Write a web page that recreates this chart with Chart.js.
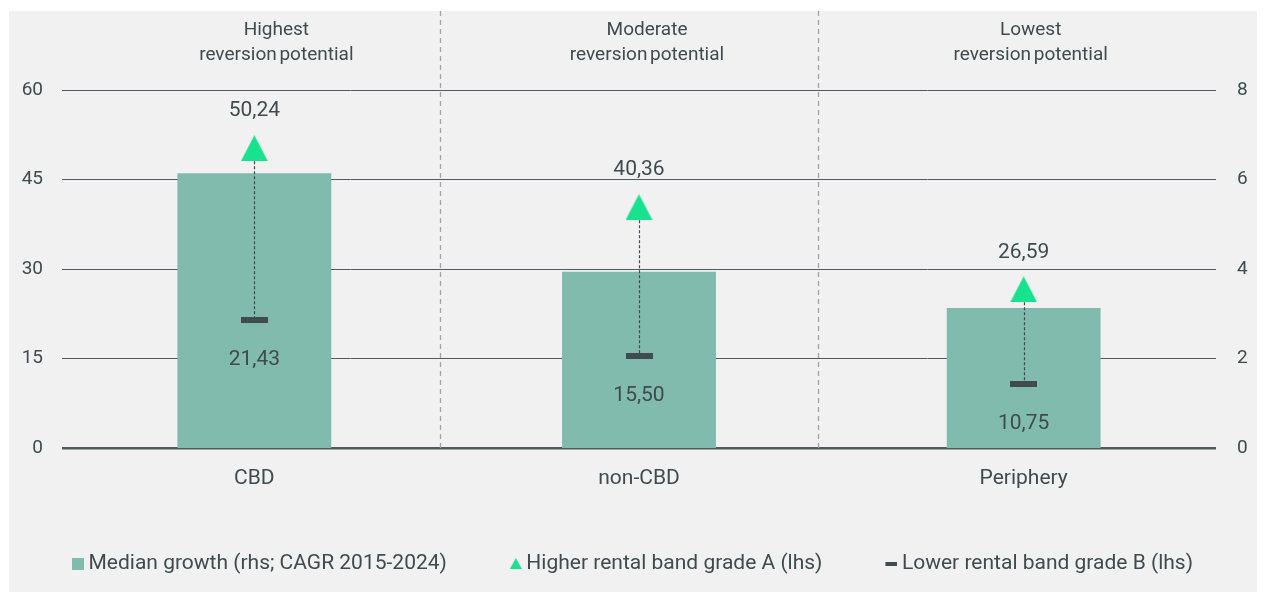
<!DOCTYPE html>
<html>
<head>
<meta charset="utf-8">
<script src="https://cdn.jsdelivr.net/npm/chart.js@4/dist/chart.umd.min.js"></script>
<style>
  html, body { margin: 0; padding: 0; background: #ffffff; }
  #panel { position: absolute; left: 9px; top: 11px; width: 1248px; height: 581px; background: #f1f1f1; }
  #panel canvas { display: block; }
</style>
</head>
<body>
<div id="panel"><canvas id="c"></canvas></div>
<script>
// ---- data ----
const categories = ['CBD', 'non-CBD', 'Periphery'];
const medianGrowth = [6.14, 3.94, 3.13];          // rhs, CAGR %
const higherBandA = [50.24, 40.36, 26.59];        // lhs
const lowerBandB = [21.43, 15.50, 10.75];         // lhs
const leftTicks = [0, 15, 30, 45, 60];
const rightTicks = [0, 2, 4, 6, 8];
const headerLine1 = ['Highest', 'Moderate', 'Lowest'];
const headerLine2 = ['reversion potential', 'reversion potential', 'reversion potential'];
const seriesNames = ['Median growth (rhs; CAGR 2015-2024)', 'Higher rental band grade A (lhs)', 'Lower rental band grade B (lhs)'];

// ---- styles ----
const FONT = 'Roboto, "Noto Sans", sans-serif';
const TEXT = '#3f4b4e';
const GRID = '#4e5b5d';
const BAR = '#80bbae';
const GREEN = '#17e38f';
const DASH = '#3f4b4e';

function makeTriangle(w, h, color, padL) {
  padL = padL || 0;
  const c = document.createElement('canvas');
  c.width = w + padL; c.height = h;
  const x = c.getContext('2d');
  x.fillStyle = color;
  x.beginPath(); x.moveTo(padL + w / 2, 0); x.lineTo(padL + w, h); x.lineTo(padL, h); x.closePath(); x.fill();
  return c;
}
function makeRect(w, h, color, padL) {
  padL = padL || 0;
  const c = document.createElement('canvas');
  c.width = w + padL; c.height = h;
  const x = c.getContext('2d');
  x.fillStyle = color; x.fillRect(padL, 0, w, h);
  return c;
}
const triPoint = makeTriangle(27, 26, GREEN);
const dashPoint = makeRect(27, 6, DASH);
const legendIcons = [makeRect(12, 12, BAR, 6), makeTriangle(12, 11, GREEN, 6), makeRect(12, 4, DASH, 6)];

const fmt = v => v.toFixed(2).replace('.', ',');

const overlay = {
  id: 'overlay',
  beforeDatasetsDraw(chart) {
    const ctx = chart.ctx, xs = chart.scales.x, area = chart.chartArea;
    // dashed separators between regions
    ctx.save();
    ctx.strokeStyle = '#a3a3a3';
    ctx.lineWidth = 1.3;
    ctx.setLineDash([5, 4]);
    [0.483, 1.465].forEach(v => {
      const px = Math.round(xs.getPixelForValue(v)) + 0.5;
      ctx.beginPath(); ctx.moveTo(px, 0); ctx.lineTo(px, area.bottom); ctx.stroke();
    });
    ctx.restore();
    // headers
    ctx.save();
    ctx.fillStyle = TEXT;
    ctx.font = '19px ' + FONT;
    ctx.textAlign = 'center';
    ctx.textBaseline = 'middle';
    try { ctx.wordSpacing = '-2px'; } catch (e) {}
    const offs = [22, 8, 7];
    categories.forEach((c, i) => {
      const px = xs.getPixelForValue(i) + offs[i];
      ctx.fillText(headerLine1[i], px, 19);
      ctx.fillText(headerLine2[i], px, 44);
    });
    ctx.restore();
  },
  afterDatasetDraw(chart, args) {
    if (args.index !== 0) return;
    const ctx = chart.ctx, xs = chart.scales.x, ys = chart.scales.y;
    ctx.save();
    ctx.strokeStyle = DASH;
    ctx.lineWidth = 1.2;
    ctx.setLineDash([3, 2]);
    categories.forEach((c, i) => {
      const px = Math.round(xs.getPixelForValue(i)) + 0.5;
      ctx.beginPath();
      ctx.moveTo(px, ys.getPixelForValue(higherBandA[i]) + 13);
      ctx.lineTo(px, ys.getPixelForValue(lowerBandB[i]));
      ctx.stroke();
    });
    ctx.restore();
  },
  afterDatasetsDraw(chart) {
    const ctx = chart.ctx, xs = chart.scales.x, ys = chart.scales.y;
    ctx.save();
    ctx.fillStyle = TEXT;
    ctx.font = '21px ' + FONT;
    ctx.textAlign = 'center';
    ctx.textBaseline = 'middle';
    categories.forEach((c, i) => {
      const px = xs.getPixelForValue(i);
      ctx.fillText(fmt(higherBandA[i]), px, ys.getPixelForValue(higherBandA[i]) - 37);
      ctx.fillText(fmt(lowerBandB[i]), px, ys.getPixelForValue(lowerBandB[i]) + 40);
    });
    ctx.restore();
  }
};

new Chart(document.getElementById('c'), {
  data: {
    labels: categories,
    datasets: [
      {
        type: 'bar', label: seriesNames[0], data: medianGrowth, yAxisID: 'y1',
        backgroundColor: BAR, barPercentage: 0.4, categoryPercentage: 1.0, order: 3
      },
      {
        type: 'line', label: seriesNames[1], data: higherBandA, yAxisID: 'y',
        showLine: false, pointStyle: triPoint, pointRadius: 13, pointHoverRadius: 13, order: 1
      },
      {
        type: 'line', label: seriesNames[2], data: lowerBandB, yAxisID: 'y',
        showLine: false, pointStyle: dashPoint, pointRadius: 13, pointHoverRadius: 13, order: 2
      }
    ]
  },
  options: {
    responsive: true,
    maintainAspectRatio: false,
    animation: false,
    events: [],
    layout: { padding: { top: 79, left: 0, right: 0, bottom: 8 } },
    plugins: {
      tooltip: { enabled: false },
      legend: {
        position: 'bottom',
        align: 'start',
        labels: {
          usePointStyle: true,
          pointStyleWidth: 6,
          boxHeight: 12,
          padding: 63,
          color: TEXT,
          font: { family: FONT, size: 21 },
          generateLabels: () => seriesNames.map((n, i) => ({
            text: n, pointStyle: legendIcons[i], fillStyle: BAR, strokeStyle: 'transparent',
            lineWidth: 0, hidden: false, datasetIndex: i, fontColor: TEXT
          }))
        }
      }
    },
    scales: {
      x: {
        grid: { display: false, drawTicks: false },
        border: { display: false },
        ticks: { color: TEXT, font: { family: FONT, size: 21 }, padding: 18 },
        afterFit: s => { s.height = 42; }
      },
      y: {
        position: 'left', min: 0, max: 60,
        afterBuildTicks: s => { s.ticks = leftTicks.map(v => ({ value: v })); },
        grid: {
          color: GRID, drawTicks: false,
          lineWidth: c => (c.tick && c.tick.value === 0 ? 2.6 : 1)
        },
        border: { display: false },
        ticks: { color: TEXT, font: { family: FONT, size: 19 }, padding: 19 },
        afterFit: s => { s.width = 53; }
      },
      y1: {
        position: 'right', min: 0, max: 8,
        afterBuildTicks: s => { s.ticks = rightTicks.map(v => ({ value: v })); },
        grid: { display: false, drawTicks: false },
        border: { display: false },
        ticks: { color: TEXT, font: { family: FONT, size: 19 }, padding: 21 },
        afterFit: s => { s.width = 41; }
      }
    }
  },
  plugins: [overlay]
});
</script>
</body>
</html>
